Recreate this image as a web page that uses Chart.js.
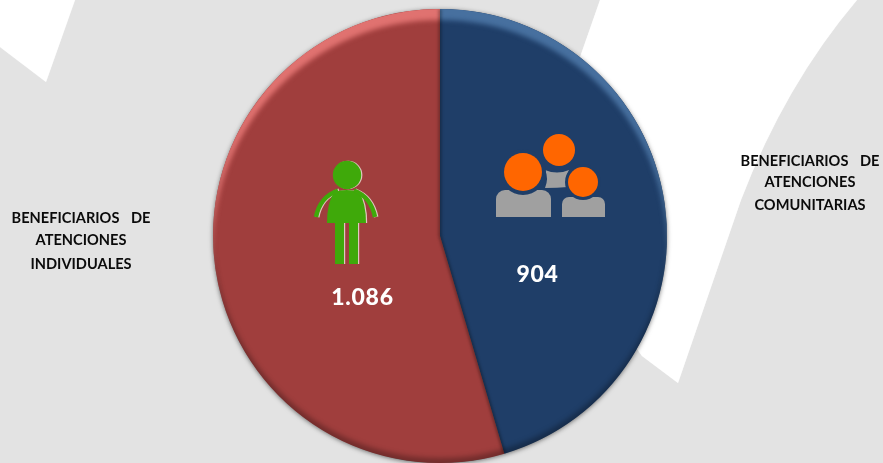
<!DOCTYPE html>
<html><head><meta charset="utf-8">
<style>html,body{margin:0;padding:0;background:#e3e3e3;overflow:hidden}#w{width:883px;height:463px;position:relative}</style>
<script src="https://cdn.jsdelivr.net/npm/chart.js@4"></script>
</head><body><div id="w"><canvas id="c" width="883" height="463"></canvas></div>
<script>
const categories = ["BENEFICIARIOS DE ATENCIONES COMUNITARIAS", "BENEFICIARIOS DE ATENCIONES INDIVIDUALES"];
const values = [904, 1086];
const sliceColors = ["#1f3e68", "#a03e3d"];
const sliceHighlights = ["#47709f", "#e07270"];
const caption = [["BENEFICIARIOS DE","ATENCIONES","COMUNITARIAS"],["BENEFICIARIOS DE","ATENCIONES","INDIVIDUALES"]];
const fmt = v => String(v).replace(/\B(?=(\d{3})+$)/g, ".");

const decor = {
  id:'decor',
  beforeDraw(ch){
    const x=ch.ctx; x.save();
    x.fillStyle='#e3e3e3'; x.fillRect(0,0,883,463);
    x.fillStyle='#fff'; x.shadowColor='rgba(255,255,255,.6)'; x.shadowBlur=1;
    x.beginPath(); x.moveTo(0,0); x.lineTo(75,0); x.lineTo(46,82); x.lineTo(0,47); x.closePath(); x.fill();
    x.beginPath(); x.moveTo(600,0); x.lineTo(857,0);
    x.quadraticCurveTo(785,85,741,200); x.lineTo(678,383); x.lineTo(642,356); x.lineTo(530,200); x.closePath(); x.fill();
    x.restore();
  },
  beforeDatasetsDraw(ch){
    const a=ch.getDatasetMeta(0).data[0], x=ch.ctx; x.save();
    x.shadowColor='rgba(0,0,0,.6)'; x.shadowBlur=5; x.shadowOffsetY=1; x.fillStyle='#555';
    x.beginPath(); x.arc(a.x,a.y,a.outerRadius-.5,0,Math.PI*2); x.fill(); x.restore();
  },
  afterDatasetsDraw(ch){
    const x=ch.ctx, arcs=ch.getDatasetMeta(0).data, a=arcs[0], r=a.outerRadius;
    arcs.forEach((s,i)=>{
      x.save(); x.beginPath(); x.moveTo(s.x,s.y); x.arc(s.x,s.y,r,s.startAngle,s.endAngle); x.closePath(); x.clip();
      x.filter='blur(2.5px)'; x.fillStyle=sliceHighlights[i];
      x.beginPath(); x.arc(s.x,s.y,r+12,0,Math.PI*2); x.arc(s.x,s.y+11,r,0,Math.PI*2,true); x.fill('evenodd');
      x.restore();
    });
    x.save(); x.beginPath(); x.arc(a.x,a.y,r,0,Math.PI*2); x.clip();
    x.filter='blur(2.5px)';
    x.fillStyle='rgba(0,0,0,.28)';
    x.beginPath(); x.arc(a.x,a.y,r+12,0,Math.PI*2); x.arc(a.x,a.y-5,r,0,Math.PI*2,true); x.fill('evenodd');
    x.filter='blur(1.5px)'; x.strokeStyle='rgba(0,0,0,.4)'; x.lineWidth=2.5;
    for(const ang of [a.startAngle,a.endAngle]){
      x.beginPath(); x.moveTo(a.x,a.y); x.lineTo(a.x+r*Math.cos(ang),a.y+r*Math.sin(ang)); x.stroke();
    }
    x.restore();
  },
  afterDraw(ch){
    const x=ch.ctx; x.save();
    drawPerson(x,'rgba(235,225,215,.85)',1.2); drawPerson(x,'#3fa90a',0);
    drawGroup(x);
    x.textAlign='center'; x.textBaseline='middle';
    x.fillStyle='#fff'; x.font='900 23px Lato, "Open Sans", sans-serif'; x.letterSpacing='0.7px';
    x.fillText(fmt(values[0]),537.5,275); x.fillText(fmt(values[1]),362.5,298);
    x.letterSpacing='0px';
    x.fillStyle='#0b0b0b'; x.font='bold 14.6px Lato, "Open Sans", sans-serif';
    const put=(lines,cx,ys)=>lines.forEach((t,i)=>{x.wordSpacing=i===0?'8px':'0px';x.fillText(t,cx,ys[i]);});
    put(caption[0],810,[161,182,205]); put(caption[1],81,[218,240,264]);
    x.restore();
  }
};
function drawPerson(x,col,dx){
  x.save(); x.translate(dx,0); x.fillStyle=col; x.strokeStyle=col;
  x.beginPath(); x.arc(347,175,14.2,0,Math.PI*2); x.fill();
  x.beginPath(); x.moveTo(327,223); x.lineTo(366,223); x.quadraticCurveTo(366,203,359,192);
  x.quadraticCurveTo(347,188,334,192); x.quadraticCurveTo(327,203,327,223); x.closePath(); x.fill();
  x.lineWidth=4.5; x.lineCap='butt';
  x.beginPath(); x.moveTo(316,217); x.quadraticCurveTo(320,197,338,190.5); x.stroke();
  x.beginPath(); x.moveTo(375,217); x.quadraticCurveTo(371,197,354,190.5); x.stroke();
  x.fillRect(335,223,9,41); x.fillRect(349,223,9,41);
  x.restore();
}
function drawGroup(x){
  x.fillStyle='#a0a0a0';
  x.beginPath(); x.roundRect(496,190,55,27,[9,9,0,0]); x.fill();
  x.beginPath(); x.roundRect(562,197,43,20,[7,7,0,0]); x.fill();
  x.beginPath(); x.moveTo(545,170); x.quadraticCurveTo(557,175,569,170);
  x.quadraticCurveTo(564,180,568,187); x.quadraticCurveTo(557,188,545,188); x.quadraticCurveTo(549,178,545,170); x.fill();
  x.fillStyle='#1f3e68';
  x.beginPath(); x.arc(523,172,23,0,Math.PI*2); x.fill();
  x.beginPath(); x.arc(583,182,18,0,Math.PI*2); x.fill();
  x.fillStyle='#ff6600';
  x.beginPath(); x.arc(523,172,19,0,Math.PI*2); x.fill();
  x.beginPath(); x.arc(559,150,16,0,Math.PI*2); x.fill();
  x.beginPath(); x.arc(583,182,15,0,Math.PI*2); x.fill();
}
new Chart(document.getElementById('c'),{
  type:'pie',
  data:{labels:categories,datasets:[{data:values,backgroundColor:sliceColors,borderWidth:0}]},
  options:{
    responsive:false,animation:false,
    layout:{padding:{top:9,right:3}},
    plugins:{legend:{display:false},tooltip:{enabled:false}}
  },
  plugins:[decor]
});
</script></body></html>
